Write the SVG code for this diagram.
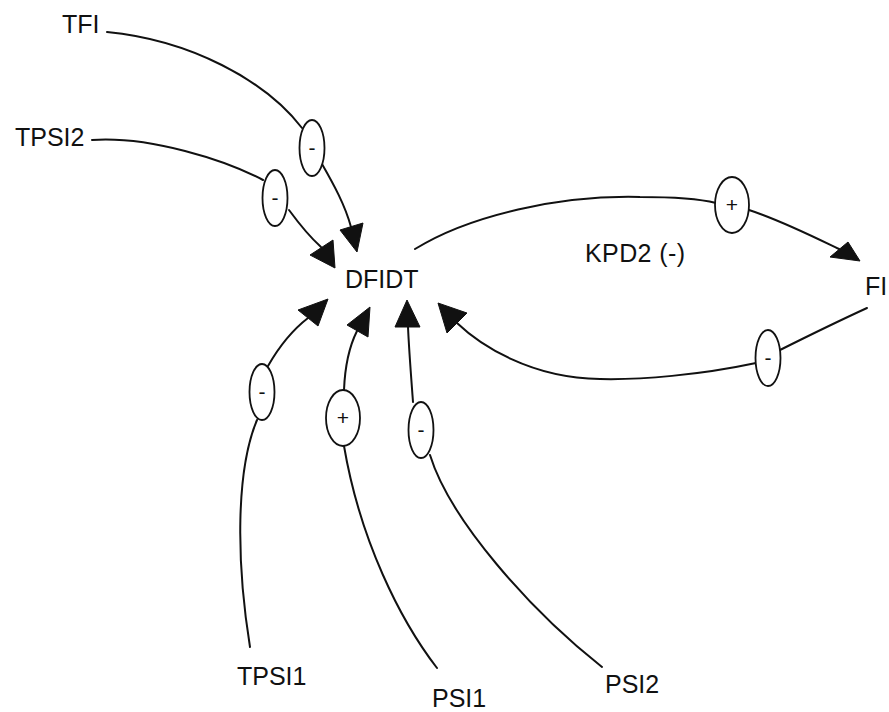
<svg xmlns="http://www.w3.org/2000/svg" width="889" height="712" viewBox="0 0 889 712">
<style>
.lbl{font-family:"Liberation Sans",Arial,sans-serif;font-size:25px;fill:#111}
.sign{font-family:"Liberation Sans",Arial,sans-serif;font-size:21px;fill:#111;text-anchor:middle}
.edge{fill:none;stroke:#111;stroke-width:2;stroke-linecap:round}
.pol{fill:#fff;stroke:#111;stroke-width:1.8}
.head{fill:#111;stroke:#111;stroke-width:1;stroke-linejoin:round}
</style>
<rect width="889" height="712" fill="#fff"/>
<g id="connectors">
  <g id="e-TFI-DFIDT">
    <path class="edge" d="M107,32 C190,40 265,80 302,128"/>
    <path class="edge" d="M322,164 C334,185 345,205 351,227"/>
    <polygon class="head" points="340,230 363,223 357,252"/>
    <ellipse class="pol" cx="312" cy="148" rx="12.5" ry="28"/>
    <text class="sign" x="312" y="155">-</text>
  </g>
  <g id="e-TPSI2-DFIDT">
    <path class="edge" d="M92,140 C150,136 225,160 263,180"/>
    <path class="edge" d="M289,210 C300,225 311,238 321,247"/>
    <polygon class="head" points="310,255 333,240 335,268"/>
    <ellipse class="pol" cx="275" cy="198" rx="12.5" ry="28"/>
    <text class="sign" x="275" y="205">-</text>
  </g>
  <g id="e-DFIDT-FI">
    <path class="edge" d="M415,249 C470,215 560,195 640,197 C680,197 700,199 716,203"/>
    <path class="edge" d="M749,210 C780,220 810,235 839,249"/>
    <polygon class="head" points="830,257 848,242 860,261"/>
    <ellipse class="pol" cx="732" cy="205" rx="17" ry="28"/>
    <text class="sign" x="732" y="212">+</text>
  </g>
  <g id="e-FI-DFIDT">
    <path class="edge" d="M867,308 C830,325 800,340 780,350"/>
    <path class="edge" d="M756,363 C700,375 640,380 600,379 C530,378 480,345 457,323"/>
    <polygon class="head" points="438,303 467,313 447,333"/>
    <ellipse class="pol" cx="768" cy="358" rx="12.5" ry="28"/>
    <text class="sign" x="768" y="365">-</text>
  </g>
  <g id="e-TPSI1-DFIDT">
    <path class="edge" d="M250,647 C236,560 236,470 257,420"/>
    <path class="edge" d="M268,366 C280,345 295,328 308,318"/>
    <polygon class="head" points="298,310 328,299 318,326"/>
    <ellipse class="pol" cx="262" cy="392" rx="12.5" ry="28"/>
    <text class="sign" x="262" y="399">-</text>
  </g>
  <g id="e-PSI1-DFIDT">
    <path class="edge" d="M437,668 C400,620 360,540 344,446"/>
    <path class="edge" d="M344,390 C345,365 350,345 357,331"/>
    <polygon class="head" points="347,325 370,307 368,337"/>
    <ellipse class="pol" cx="343" cy="418" rx="17" ry="28"/>
    <text class="sign" x="343" y="425">+</text>
  </g>
  <g id="e-PSI2-DFIDT">
    <path class="edge" d="M602,667 C530,610 450,520 430,455"/>
    <path class="edge" d="M413,402 C411,375 409,350 408,327"/>
    <polygon class="head" points="395,327 420,327 407,300"/>
    <ellipse class="pol" cx="421" cy="430" rx="12.5" ry="28"/>
    <text class="sign" x="421" y="437">-</text>
  </g>
</g>
<g id="n-TFI"><text class="lbl" x="62" y="33">TFI</text></g>
<g id="n-TPSI2"><text class="lbl" x="15" y="146">TPSI2</text></g>
<g id="n-DFIDT"><text class="lbl" x="345" y="288">DFIDT</text></g>
<g id="n-FI"><text class="lbl" x="865" y="295">FI</text></g>
<g id="n-TPSI1"><text class="lbl" x="237" y="685">TPSI1</text></g>
<g id="n-PSI1"><text class="lbl" x="432" y="707">PSI1</text></g>
<g id="n-PSI2"><text class="lbl" x="605" y="693">PSI2</text></g>
<g id="loop-label"><text class="lbl" x="585" y="262" textLength="100" lengthAdjust="spacing">KPD2 (-)</text></g>
</svg>
